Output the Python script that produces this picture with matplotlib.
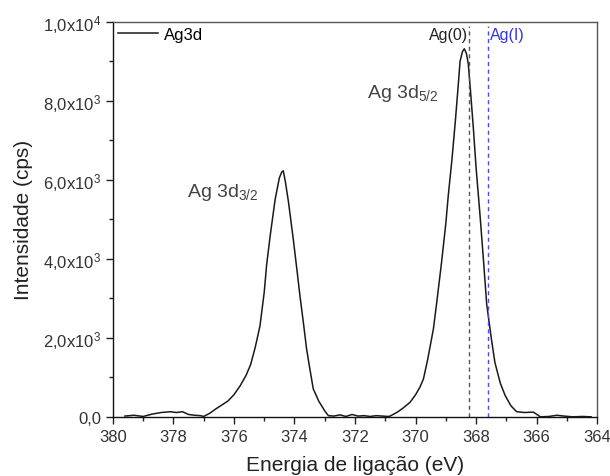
"""
XPS Ag3d region: binding energy vs intensity, with Ag(0) / Ag(I) reference lines.
"""
import matplotlib as mpl
mpl.use("Agg")
import matplotlib.pyplot as plt
from matplotlib.ticker import MultipleLocator

mpl.rcParams.update({
    "font.family": ["Liberation Sans", "DejaVu Sans"],
    "mathtext.fontset": "custom",
    "mathtext.rm": "Liberation Sans",
    "mathtext.it": "Liberation Sans:italic",
    "mathtext.bf": "Liberation Sans:bold",
    "axes.linewidth": 1.0,
})

# binding energy (eV) and counts (cps)
energy = [379.6, 379.3, 379.0, 378.7, 378.4, 378.1, 377.9, 377.7, 377.5, 377.3,
          377.1, 377.0, 376.8, 376.6, 376.4, 376.2, 376.0, 375.8, 375.6, 375.45,
          375.3, 375.14, 375.0, 374.92, 374.8, 374.64, 374.5, 374.42, 374.37, 374.3,
          374.2, 374.04, 373.9, 373.82, 373.7, 373.6, 373.5, 373.38, 373.2, 373.0,
          372.88, 372.7, 372.5, 372.3, 372.1, 371.9, 371.7, 371.5, 371.3, 371.1,
          370.9, 370.84, 370.6, 370.4, 370.18, 370.0, 369.85, 369.74, 369.6, 369.41,
          369.3, 369.14, 369.0, 368.92, 368.8, 368.69, 368.6, 368.53, 368.45, 368.39,
          368.32, 368.26, 368.18, 368.09, 368.0, 367.87, 367.75, 367.65, 367.5, 367.38,
          367.2, 367.04, 366.85, 366.66, 366.4, 366.11, 365.95, 365.88, 365.6, 365.33,
          365.1, 364.8, 364.5, 364.2]
counts = [20, 40, 10, 70, 110, 130, 110, 130, 60, 40,
          30, 10, 90, 200, 300, 400, 560, 780, 1050, 1320,
          1750, 2300, 3150, 3850, 4600, 5500, 6050, 6200, 6230, 5950,
          5450, 4500, 3600, 3070, 2350, 1720, 1250, 710, 400, 150,
          30, 20, 50, 10, 60, 20, 30, 10, 30, 20,
          10, 20, 120, 230, 370, 560, 760, 960, 1450, 2230,
          2900, 3920, 4900, 5600, 6500, 7450, 8300, 9000, 9250, 9320,
          9200, 8950, 8200, 7300, 6300, 5100, 3900, 2850, 2000, 1380,
          850, 540, 280, 130, 110, 120, 40, 0, 10, 40,
          20, 0, 10, 0]

ag0_energy = 368.22
ag1_energy = 367.62

y_ticks = [0, 2000, 4000, 6000, 8000, 10000]
y_tick_labels = ["0,0", "2,0x10$^3$", "4,0x10$^3$", "6,0x10$^3$",
                 "8,0x10$^3$", "1,0x10$^4$"]

fig = plt.figure(figsize=(6.10, 4.77), dpi=100)
ax = fig.add_axes([0.185, 0.124, 0.794, 0.828])

ax.plot(energy, counts, color="#1a1a1a", lw=1.1, label="Ag3d")
ax.axvline(ag0_energy, ymax=0.99, color="#555555", lw=1.0, ls=(0, (3, 2.5)))
ax.axvline(ag1_energy, ymax=0.99, color="#4a4aff", lw=1.0, ls=(0, (3, 2.5)))

ax.text(ag0_energy + 0.05, 9570, "Ag(0)", ha="right", va="baseline",
        fontsize=11.5, color="#222222")
ax.text(ag1_energy - 0.08, 9570, "Ag(I)", ha="left", va="baseline",
        fontsize=11.5, color="#3333ee")
ax.text(377.55, 5600, r"Ag 3d$_{3/2}$", fontsize=14, color="#444444", va="baseline")
ax.text(371.6, 8090, r"Ag 3d$_{5/2}$", fontsize=14, color="#444444", va="baseline")

ax.set_xlim(380, 364)
ax.set_ylim(0, 10000)
ax.xaxis.set_major_locator(MultipleLocator(2))
ax.xaxis.set_minor_locator(MultipleLocator(1))
ax.set_yticks(y_ticks)
ax.set_yticklabels(y_tick_labels)
ax.yaxis.set_minor_locator(MultipleLocator(1000))

ax.tick_params(which="major", direction="out", length=5, width=1.0,
               labelsize=12, labelcolor="#333333", colors="#222222")
ax.tick_params(which="minor", direction="out", length=3, width=1.0, colors="#222222")
for side in ("top", "right"):
    ax.spines[side].set_color("#555555")
for side in ("left", "bottom"):
    ax.spines[side].set_color("#111111")

ax.set_xlabel("Energia de ligação (eV)", fontsize=15, color="#222222", labelpad=8)
ax.set_ylabel("Intensidade (cps)", fontsize=15, color="#222222", labelpad=7)

leg = ax.legend(loc="upper left", bbox_to_anchor=(0.0, 1.0), frameon=False,
                fontsize=12, handlelength=2.4, handletextpad=0.35,
                borderaxespad=0.1, borderpad=0.2)

fig.savefig("out.png", dpi=100)
